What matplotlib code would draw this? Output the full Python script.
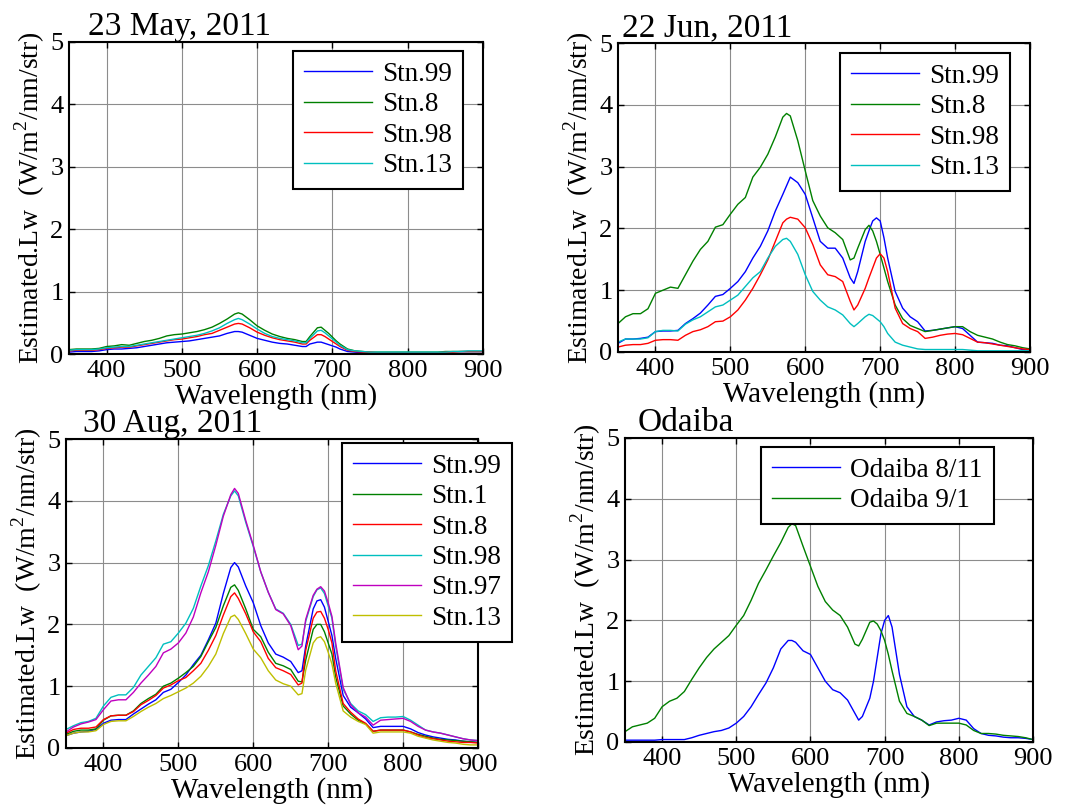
import matplotlib
matplotlib.use('Agg')
import matplotlib.pyplot as plt

plt.rcParams['font.family'] = ['Liberation Serif', 'DejaVu Serif']
plt.rcParams['mathtext.fontset'] = 'custom'
plt.rcParams['mathtext.rm'] = 'Liberation Serif'

# wavelength grid (nm)
wl = [350, 360, 370, 380, 390, 400, 410, 420, 430, 440, 450, 460, 470, 480, 490,
      500, 510, 520, 530, 540, 550, 560, 570, 575, 580, 590, 600, 610, 620, 630,
      640, 650, 660, 665, 670, 680, 685, 690, 695, 700, 705, 710, 720, 730, 740,
      750, 760, 770, 780, 790, 800, 810, 820, 830, 840, 850, 860, 870, 880, 890, 900]

# 23 May 2011
may_99 = [.03, .04, .04, .04, .05, .07, .08, .08, .09, .10, .12, .14, .16, .18, .19,
          .20, .21, .23, .25, .27, .29, .33, .36, .36, .35, .30, .25, .22, .19, .17,
          .16, .14, .12, .12, .16, .19, .19, .17, .15, .13, .11, .08, .04, .03, .02,
          .02, .01, .01, .01, .01, .01, .01, .01, .01, .01, .01, .01, .01, .01, .01, .01]
may_8 = [.07, .08, .08, .08, .09, .12, .13, .15, .14, .17, .20, .22, .25, .29, .31,
         .32, .34, .36, .39, .43, .49, .56, .64, .66, .64, .55, .45, .38, .32, .28,
         .25, .23, .20, .20, .28, .42, .43, .38, .33, .27, .21, .16, .08, .05, .04,
         .03, .03, .03, .03, .03, .03, .03, .03, .03, .03, .04, .04, .04, .04, .04, .04]
may_98 = [.05, .06, .06, .06, .07, .09, .10, .11, .11, .13, .15, .17, .19, .21, .23,
          .24, .26, .28, .31, .33, .38, .43, .48, .49, .48, .42, .35, .30, .26, .23,
          .21, .19, .16, .16, .22, .31, .31, .28, .24, .20, .16, .12, .06, .04, .03,
          .03, .02, .02, .02, .02, .02, .02, .02, .02, .02, .03, .03, .04, .04, .04, .04]
may_13 = [.06, .07, .07, .07, .08, .10, .11, .12, .12, .14, .16, .18, .20, .22, .24,
          .26, .28, .30, .33, .37, .42, .49, .55, .57, .55, .48, .40, .33, .28, .25,
          .23, .21, .18, .18, .25, .37, .38, .34, .29, .24, .19, .14, .07, .05, .04,
          .03, .03, .03, .03, .03, .03, .03, .03, .03, .03, .03, .04, .04, .05, .05, .05]

# 22 Jun 2011
jun_99 = [.14, .21, .21, .22, .24, .33, .34, .34, .35, .46, .54, .63, .76, .90, .93,
          1.03, 1.14, 1.30, 1.52, 1.71, 1.96, 2.28, 2.55, 2.69, 2.83, 2.74, 2.55, 2.17, 1.79, 1.68,
          1.68, 1.52, 1.20, 1.11, 1.30, 1.79, 1.96, 2.12, 2.17, 2.12, 1.85, 1.52, .98, .71, .57,
          .49, .34, .35, .37, .39, .41, .38, .27, .16, .15, .14, .11, .10, .07, .04, .03]
jun_8 = [.46, .57, .62, .62, .70, .95, 1.00, 1.05, 1.03, 1.25, 1.47, 1.66, 1.79, 2.02, 2.06,
         2.23, 2.39, 2.50, 2.83, 2.99, 3.20, 3.48, 3.80, 3.86, 3.82, 3.42, 2.93, 2.45, 2.20, 2.01,
         1.93, 1.82, 1.49, 1.52, 1.68, 1.98, 2.05, 1.96, 1.79, 1.58, 1.36, 1.14, .76, .54, .43,
         .38, .33, .35, .37, .39, .41, .41, .33, .27, .24, .21, .16, .12, .10, .07, .05]
jun_98 = [.08, .11, .12, .12, .14, .19, .20, .20, .19, .27, .33, .36, .41, .49, .50,
          .57, .68, .84, 1.03, 1.25, 1.49, 1.79, 2.09, 2.15, 2.18, 2.15, 2.01, 1.74, 1.41, 1.25,
          1.22, 1.14, .82, .68, .76, 1.03, 1.20, 1.36, 1.52, 1.59, 1.52, 1.30, .71, .46, .38,
          .33, .22, .24, .27, .29, .30, .28, .22, .16, .15, .13, .11, .09, .07, .05, .04]
jun_13 = [.16, .21, .21, .21, .23, .33, .35, .35, .34, .45, .52, .57, .65, .73, .76,
          .84, .92, 1.06, 1.20, 1.30, 1.52, 1.71, 1.82, 1.84, 1.79, 1.58, 1.25, .98, .84, .73,
          .68, .60, .46, .41, .46, .57, .61, .59, .54, .49, .41, .30, .16, .11, .08,
          .05, .04, .04, .04, .04, .04, .04, .03, .02, .02, .02, .02, .02, .02, .02, .02]

# 30 Aug 2011
aug_99 = [.20, .24, .26, .27, .30, .40, .45, .46, .46, .55, .63, .71, .78, .90, .95,
          1.06, 1.18, 1.35, 1.50, 1.75, 2.02, 2.50, 2.92, 3.00, 2.93, 2.62, 2.35, 1.98, 1.70, 1.52,
          1.47, 1.40, 1.22, 1.25, 1.65, 2.25, 2.38, 2.40, 2.28, 2.05, 1.82, 1.45, .85, .66, .57,
          .47, .33, .35, .35, .35, .35, .31, .25, .21, .18, .16, .14, .13, .11, .10, .09]
aug_1 = [.22, .27, .29, .29, .31, .45, .52, .53, .53, .60, .72, .80, .87, 1.00, 1.05,
         1.13, 1.22, 1.32, 1.48, 1.72, 1.95, 2.30, 2.60, 2.64, 2.55, 2.25, 1.92, 1.80, 1.55, 1.37,
         1.33, 1.27, 1.08, 1.07, 1.42, 1.92, 2.00, 2.00, 1.88, 1.70, 1.52, 1.15, .68, .55, .45,
         .39, .27, .29, .29, .29, .29, .26, .22, .19, .16, .14, .13, .12, .11, .10, .09]
aug_8 = [.24, .30, .32, .32, .34, .46, .52, .53, .53, .59, .70, .77, .85, .97, 1.02,
         1.09, 1.14, 1.25, 1.37, 1.58, 1.82, 2.15, 2.45, 2.51, 2.42, 2.17, 1.88, 1.72, 1.45, 1.30,
         1.25, 1.19, 1.02, 1.05, 1.58, 2.10, 2.20, 2.21, 2.10, 1.92, 1.70, 1.25, .72, .58, .47,
         .40, .27, .29, .29, .29, .29, .26, .21, .17, .15, .13, .11, .10, .09, .09, .08]
aug_98 = [.30, .36, .41, .43, .48, .68, .82, .86, .86, .98, 1.18, 1.32, 1.46, 1.68, 1.72,
          1.86, 2.02, 2.26, 2.62, 2.95, 3.35, 3.78, 4.08, 4.16, 4.08, 3.65, 3.26, 2.85, 2.52, 2.25,
          2.18, 2.00, 1.66, 1.68, 2.05, 2.45, 2.56, 2.59, 2.50, 2.30, 2.10, 1.65, .95, .72, .60,
          .54, .43, .49, .50, .50, .51, .45, .37, .29, .26, .24, .21, .18, .15, .13, .12]
aug_97 = [.26, .34, .39, .42, .46, .62, .76, .78, .78, .90, 1.05, 1.18, 1.32, 1.54, 1.60,
          1.70, 1.86, 2.12, 2.51, 2.85, 3.28, 3.75, 4.10, 4.20, 4.12, 3.68, 3.28, 2.85, 2.52, 2.24,
          2.17, 1.98, 1.59, 1.65, 2.08, 2.47, 2.57, 2.61, 2.54, 2.35, 2.13, 1.70, .98, .70, .57,
          .50, .37, .45, .46, .47, .48, .43, .35, .29, .26, .24, .21, .18, .15, .13, .12]
aug_13 = [.20, .24, .26, .26, .28, .38, .43, .44, .44, .51, .59, .66, .72, .80, .85,
          .91, .97, 1.05, 1.16, 1.32, 1.52, 1.85, 2.12, 2.15, 2.08, 1.85, 1.60, 1.46, 1.25, 1.10,
          1.04, 1.00, .86, .88, 1.26, 1.70, 1.78, 1.80, 1.72, 1.55, 1.36, 1.05, .60, .50, .43,
          .38, .24, .26, .26, .26, .26, .24, .19, .16, .13, .11, .09, .08, .06, .05, .05]

# Odaiba
oda_0811 = [.03, .03, .03, .03, .03, .04, .04, .04, .04, .07, .11, .14, .17, .19, .23,
            .31, .42, .58, .78, .97, 1.22, 1.53, 1.67, 1.67, 1.64, 1.50, 1.44, 1.22, 1.00, .86,
            .81, .69, .47, .36, .42, .72, 1.00, 1.39, 1.78, 2.00, 2.08, 1.89, 1.11, .58, .42,
            .36, .28, .33, .35, .36, .39, .36, .22, .14, .11, .10, .08, .07, .07, .06, .04]
oda_0901 = [.17, .25, .28, .31, .39, .58, .67, .72, .83, 1.03, 1.22, 1.39, 1.53, 1.64, 1.75,
            1.92, 2.08, 2.33, 2.61, 2.83, 3.06, 3.28, 3.53, 3.59, 3.56, 3.22, 2.89, 2.56, 2.31, 2.17,
            2.08, 1.89, 1.61, 1.58, 1.69, 1.97, 1.99, 1.94, 1.83, 1.67, 1.44, 1.17, .67, .47, .42,
            .36, .27, .31, .31, .31, .31, .28, .19, .14, .14, .13, .11, .10, .09, .07, .04]

blue, green, red = (0, 0, 1), (0, 0.5, 0), (1, 0, 0)
cyan, magenta, yellow = (0, 0.75, 0.75), (0.75, 0, 0.75), (0.75, 0.75, 0)

W, H = 1083, 807
panels = [
    # title, axes box in px (left, top, right, bottom), title offset, series, legend corner px
    ('23 May, 2011', (69, 42, 483, 354), 19,
     [(may_99, 'Stn.99', blue), (may_8, 'Stn.8', green),
      (may_98, 'Stn.98', red), (may_13, 'Stn.13', cyan)], (293, 51)),
    ('22 Jun, 2011', (618, 43, 1030, 352), 4,
     [(jun_99, 'Stn.99', blue), (jun_8, 'Stn.8', green),
      (jun_98, 'Stn.98', red), (jun_13, 'Stn.13', cyan)], (840, 53)),
    ('30 Aug, 2011', (66, 439, 478, 748), 17,
     [(aug_99, 'Stn.99', blue), (aug_1, 'Stn.1', green), (aug_8, 'Stn.8', red),
      (aug_98, 'Stn.98', cyan), (aug_97, 'Stn.97', magenta), (aug_13, 'Stn.13', yellow)],
     (342, 443)),
    ('Odaiba', (625, 438, 1033, 742), 13,
     [(oda_0811, 'Odaiba 8/11', blue), (oda_0901, 'Odaiba 9/1', green)], (761, 447)),
]

fig = plt.figure(figsize=(W / 100, H / 100), dpi=100)

for title, (l, t, r, b), tdx, series, (lx, ly) in panels:
    ax = fig.add_axes([l / W, 1 - b / H, (r - l) / W, (b - t) / H])
    for vals, name, col in series:
        ax.plot(wl, vals, color=col, lw=1.0, label=name)
    ax.set_xlim(350, 900)
    ax.set_ylim(0, 5)
    ax.set_xticks([400, 500, 600, 700, 800, 900])
    ax.set_yticks([0, 1, 2, 3, 4, 5])
    ax.grid(True, color='0.55', lw=0.8)
    ax.tick_params(direction='in', length=4, width=1, labelsize=19,
                   top=True, right=True, pad=4)
    for s in ax.spines.values():
        s.set_linewidth(1.5)
    ax.set_xlabel('Wavelength (nm)', fontsize=21, labelpad=1)
    ax.set_ylabel(r'Estimated.Lw  (W/m$^2$/nm/str)', fontsize=20, labelpad=2)
    ax.text(tdx / (r - l), 1 + 7 / (b - t), title, transform=ax.transAxes,
            fontsize=24, ha='left', va='baseline')
    leg = ax.legend(loc='upper left', bbox_to_anchor=(lx / W, 1 - ly / H),
                    bbox_transform=fig.transFigure, borderaxespad=0,
                    fontsize=19.5, handlelength=2.5, handletextpad=0.4,
                    labelspacing=0.2, borderpad=0.4, fancybox=False,
                    framealpha=1, edgecolor='black')
    leg.get_frame().set_linewidth(1.5)

fig.savefig('out.png', dpi=100)
